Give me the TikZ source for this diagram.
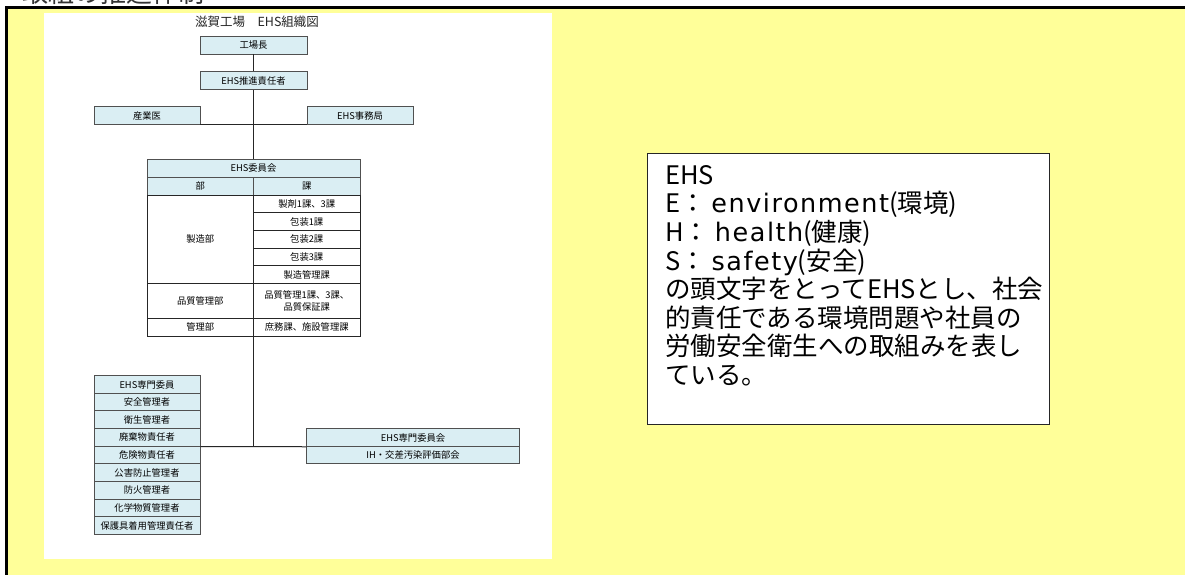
\documentclass[tikz,border=0pt]{standalone}
\usepackage{fontspec}
\setmainfont{Noto Sans CJK JP}
\newfontfamily\widelatin[LetterSpace=6]{DejaVu Sans}
\definecolor{bgyellow}{HTML}{FFFF99}
\definecolor{bfill}{HTML}{DAEEF3}
\definecolor{bline}{HTML}{505050}
\begin{document}
\begin{tikzpicture}[x=1pt,y=-1pt,
  bx/.style={draw=bline, fill=bfill, line width=0.9pt, inner sep=0pt, align=center,
    font=\fontsize{9.3}{12.3}\selectfont},
  wc/.style={draw=black!85, fill=white, line width=0.9pt, inner sep=0pt, align=center,
    font=\fontsize{9.3}{12.3}\selectfont},
  conn/.style={draw=black!85, line width=1pt}]
\useasboundingbox (0,0) rectangle (1185,575);
\clip (0,0) rectangle (1185,575);
% background
\fill[bgyellow] (6,7) rectangle (1185,575);
\draw[line width=3.3pt] (6.6,575) -- (6.6,7.5) -- (1185,7.5);
\fill[white] (44,13) rectangle (552,559);
% cut heading (cropped at the top edge as in the reference)
\node[anchor=base west, inner sep=0pt, font=\fontsize{26}{26}\selectfont, text=black!80] (hdr) at (22,3) {取組の推進体制};
% title
\node[inner sep=0pt, font=\fontsize{12.5}{14}\selectfont, text=black!85] (title) at (257,22) {滋賀工場　EHS組織図};
% top boxes
\node[bx, minimum width=107, minimum height=18] (k1) at (253.5,45) {工場長};
\node[bx, minimum width=107, minimum height=17.5] (k2) at (253.5,80.7) {EHS推進責任者};
\node[bx, minimum width=106, minimum height=17.3] (k3) at (147,115.6) {産業医};
\node[bx, minimum width=106, minimum height=17.3] (k4) at (360,115.6) {EHS事務局};
% committee table
\node[bx, minimum width=213, minimum height=18] (t0) at (253.5,168.3) {EHS委員会};
\node[bx, minimum width=106.5, minimum height=17.7] (th1) at (200.25,186.15) {部};
\node[bx, minimum width=106.5, minimum height=17.7] (th2) at (306.75,186.15) {課};
\node[wc, minimum width=106.5, minimum height=88.3] (d1) at (200.25,239.15) {製造部};
\node[wc, minimum width=106.5, minimum height=17.66] (c1) at (306.75,203.83) {製剤1課、3課};
\node[wc, minimum width=106.5, minimum height=17.66] (c2) at (306.75,221.49) {包装1課};
\node[wc, minimum width=106.5, minimum height=17.66] (c3) at (306.75,239.15) {包装2課};
\node[wc, minimum width=106.5, minimum height=17.66] (c4) at (306.75,256.81) {包装3課};
\node[wc, minimum width=106.5, minimum height=17.66] (c5) at (306.75,274.47) {製造管理課};
\node[wc, minimum width=106.5, minimum height=35] (d2) at (200.25,300.8) {品質管理部};
\node[wc, minimum width=106.5, minimum height=35] (c6) at (306.75,300.8) {品質管理1課、3課、\\品質保証課};
\node[wc, minimum width=106.5, minimum height=17.7] (d3) at (200.25,327.15) {管理部};
\node[wc, minimum width=106.5, minimum height=17.7] (c7) at (306.75,327.15) {庶務課、施設管理課};
% left list
\node[bx, minimum width=106, minimum height=17.62] (l1) at (147,384.51) {EHS専門委員};
\node[bx, minimum width=106, minimum height=17.62] (l2) at (147,402.13) {安全管理者};
\node[bx, minimum width=106, minimum height=17.62] (l3) at (147,419.75) {衛生管理者};
\node[bx, minimum width=106, minimum height=17.62] (l4) at (147,437.37) {廃棄物責任者};
\node[bx, minimum width=106, minimum height=17.62] (l5) at (147,454.99) {危険物責任者};
\node[bx, minimum width=106, minimum height=17.62] (l6) at (147,472.61) {公害防止管理者};
\node[bx, minimum width=106, minimum height=17.62] (l7) at (147,490.23) {防火管理者};
\node[bx, minimum width=106, minimum height=17.62] (l8) at (147,507.85) {化学物質管理者};
\node[bx, minimum width=106, minimum height=17.62] (l9) at (147,525.47) {保護具着用管理責任者};
% right box
\node[bx, minimum width=212.6, minimum height=17.6] (r1) at (413,437.5) {EHS専門委員会};
\node[bx, minimum width=212.6, minimum height=17.6] (r2) at (413,455.1) {IH・交差汚染評価部会};
% connectors
\draw[conn] (k1.south) -- (k2.north);
\draw[conn] (k2.south) -- (t0.north);
\draw[conn] (k3.south east) -- (k4.south west);
\coordinate (j) at (d3.south east |- l4.south east);
\draw[conn] (d3.south east) -- (j);
\draw[conn] (l4.south east) -- (r1.south west);
% EHS explanation box
\node[draw=black!85, fill=white, line width=1pt, inner sep=0pt, anchor=north west,
  minimum width=402, minimum height=270.7] (ehsbox) at (647.3,153.3) {};
\node[anchor=north west, inner sep=0pt, align=left, font=\fontsize{25.5}{28.6}\selectfont]
  (ehstext) at (665,165) {EHS\\E： {\widelatin environment}(環境)\\H： {\widelatin health}(健康)\\S： {\widelatin safety}(安全)\\の頭文字をとってEHSとし、社会\\的責任である環境問題や社員の\\労働安全衛生への取組みを表し\\ている。};
\end{tikzpicture}
\end{document}
